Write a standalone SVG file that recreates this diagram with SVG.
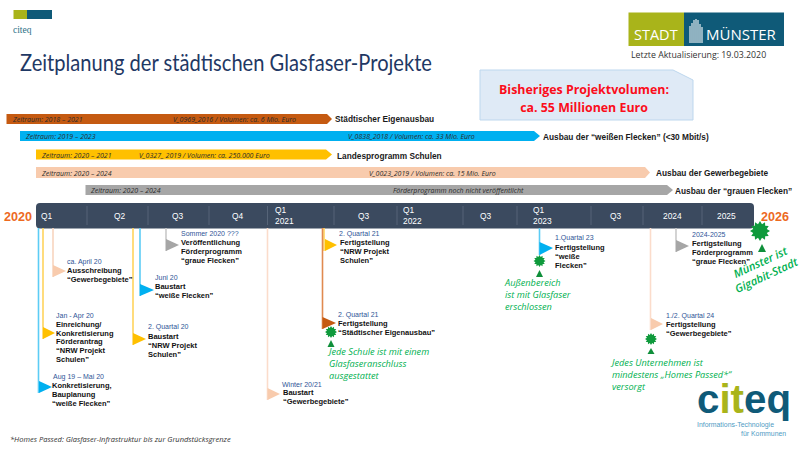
<svg xmlns="http://www.w3.org/2000/svg" width="800" height="450" viewBox="0 0 800 450">
<style>
.os{font-family:"Open Sans","Noto Sans",sans-serif}
.bi{font-family:"Open Sans","Noto Sans",sans-serif;font-style:italic;font-size:7px;fill:#2b2b2b}
.bl{font-family:"Liberation Sans",Arial,sans-serif;font-weight:bold;font-size:8.3px;fill:#1a1a1a}
.d{font-family:"Liberation Sans",Arial,sans-serif;font-size:7px;fill:#2f5597}
.n{font-family:"Liberation Sans",Arial,sans-serif;font-weight:bold;font-size:7.5px;fill:#111}
.q{font-family:"Liberation Sans",Arial,sans-serif;font-size:8.4px;fill:#fff}
.g{font-family:"Open Sans","Noto Sans",sans-serif;font-style:italic;font-size:9.2px;fill:#00b050}
.y{font-family:"Liberation Sans",Arial,sans-serif;font-weight:bold;font-size:12.6px;fill:#ed6a1f}
.c{fill:none;stroke-width:1.6}
.div{stroke:#5d6b7f;stroke-width:.8}
.star{fill:#0f9a3c}
.up{fill:#0f8f3a}
</style>
<defs>
<polygon id="s" points="0,-1 .2,-.68 .5,-.87 .52,-.52 .87,-.5 .68,-.2 1,0 .68,.2 .87,.5 .52,.52 .5,.87 .2,.68 0,1 -.2,.68 -.5,.87 -.52,.52 -.87,.5 -.68,.2 -1,0 -.68,-.2 -.87,-.5 -.52,-.52 -.5,-.87 -.2,-.68"/>
</defs>
<rect width="800" height="450" fill="#fff"/>

<g id="logo-citeq-small">
<rect x="13.5" y="10" width="13.5" height="9" fill="#a9b41a"/><rect x="27" y="10" width="25" height="9" fill="#0f5a78"/>
<text x="13" y="33" font-family="'Liberation Serif',serif" font-size="9.5" fill="#2b6f86">citeq</text>
</g>
<text id="title" x="20" y="70.5" font-family="Lato,'Open Sans',sans-serif" font-size="23" fill="#1f3864" textLength="412" lengthAdjust="spacingAndGlyphs">Zeitplanung der städtischen Glasfaser-Projekte</text>

<g id="logo-muenster">
<rect x="628.5" y="12.5" width="55.500" height="33.500" fill="#a9b41a"/><rect x="684" y="12.5" width="100" height="33.500" fill="#0f5a78"/>
<text x="634" y="40" class="os" font-size="14.500" fill="#fff">STADT</text>
<text x="706" y="40" class="os" font-size="15" fill="#fff">MÜNSTER</text>
<path d="M690 43V26M692 43V23M694 43V20M696 43V19M698 43V20M700 43V24M702 43V27" stroke="#d5e2e8" stroke-width="1.300" fill="none"/>
</g>
<text id="update" class="os" x="631" y="58" font-size="8.800" fill="#333">Letzte Aktualisierung: 19.03.2020</text>

<g id="volumen">
<polygon points="480,70 673,70 693,80 693,120 480,120" fill="#dfeaf6" stroke="#bdd7ee"/>
<text class="os" text-anchor="middle" x="584" y="94" font-size="12.400" font-weight="bold" fill="#fb0d1b">Bisheriges Projektvolumen:</text>
<text class="os" text-anchor="middle" x="584" y="112" font-size="12.400" font-weight="bold" fill="#fb0d1b">ca. 55 Millionen Euro</text>
</g>

<g id="bar-eigenausbau">
<polygon points="6.500,114 327,114 332,119 327,124 6.500,124" fill="#c55a11"/>
<text class="bi" x="13" y="121.500">Zeitraum: 2018 – 2021</text><text class="bi" x="173" y="121.500">V_0969_2016 / Volumen: ca. 6 Mio. Euro</text>
<text class="bl" x="335" y="121.500">Städtischer Eigenausbau</text>
</g>
<g id="bar-weisse">
<polygon points="20,131 534,131 540,136 534,141 20,141" fill="#00b0f0"/>
<text class="bi" x="26" y="139">Zeitraum: 2019 – 2023</text><text class="bi" x="348" y="139">V_0838_2018 / Volumen: ca. 33 Mio. Euro</text>
<text class="bl" x="543" y="140">Ausbau der “weißen Flecken” (&lt;30 Mbit/s)</text>
</g>
<g id="bar-schulen">
<polygon points="36,149.500 326,149.500 332,154.500 326,159.500 36,159.500" fill="#ffc000"/>
<text class="bi" x="42" y="157.500">Zeitraum: 2020 – 2021</text><text class="bi" x="139" y="157.500">V_0327_ 2019 / Volumen: ca. 250.000 Euro</text>
<text class="bl" x="337" y="158.500">Landesprogramm Schulen</text>
</g>
<g id="bar-gewerbe">
<polygon points="36,167 645,167 650,172.500 645,178 36,178" fill="#f8cbad"/>
<text class="bi" x="42" y="175.500">Zeitraum: 2020 – 2024</text><text class="bi" x="369" y="175.500">V_0023_2019 / Volumen: ca. 15 Mio. Euro</text>
<text class="bl" x="656" y="175.500">Ausbau der Gewerbegebiete</text>
</g>
<g id="bar-graue">
<polygon points="85.500,185 667,185 673,190 667,195 85.500,195" fill="#a6a6a6"/>
<text class="bi" x="91" y="193">Zeitraum: 2020 – 2024</text><text class="bi" x="393" y="193">Förderprogramm noch nicht veröffentlicht</text>
<text class="bl" x="675" y="193.500">Ausbau der “grauen Flecken”</text>
</g>

<g id="timeline">
<rect x="36" y="203" width="718" height="25.500" rx="4" fill="#3b4a5f"/>
<path class="div" d="M87 206V225M148 206V225M209 206V225M267.500 206V225M334 206V225M397 206V225M463 206V225M517 206V225M591 206V225M643 206V225M702 206V225"/>
<text class="y" x="4" y="221">2020</text><text class="y" x="761" y="221">2026</text>
<text class="q" x="41" y="219">Q1</text><text class="q" x="114" y="219">Q2</text><text class="q" x="172" y="219">Q3</text><text class="q" x="232" y="219">Q4</text>
<text class="q" x="275" y="213">Q1</text><text class="q" x="275" y="224">2021</text><text class="q" x="358" y="219">Q3</text>
<text class="q" x="403" y="213">Q1</text><text class="q" x="403" y="224">2022</text><text class="q" x="480" y="219">Q3</text>
<text class="q" x="533" y="213">Q1</text><text class="q" x="533" y="224">2023</text><text class="q" x="610" y="219">Q3</text>
<text class="q" x="663" y="219">2024</text><text class="q" x="717" y="219">2025</text>
</g>

<g id="connectors" class="c">
<path d="M38.500 228V393" stroke="#5cccf5"/>
<path d="M43 228V339" stroke="#ffd45c"/>
<path d="M53 228V277" stroke="#f8d5bf"/>
<path d="M133 228V345" stroke="#ffd45c"/>
<path d="M140 228V296" stroke="#5cccf5"/>
<path d="M166 228V251" stroke="#c9c9c9"/>
<path d="M267.500 228V400" stroke="#fbdccb"/>
<path d="M324 228V251" stroke="#ffd45c"/>
<path d="M322.500 228V329" stroke="#e08a50"/>
<path d="M539.500 228V255" stroke="#5cccf5"/>
<path d="M650.500 228V330" stroke="#fbdccb"/>
<path d="M676 228V252" stroke="#c9c9c9"/>
</g>

<g id="ms-ausschreibung"><polygon points="53,265 66,271 53,277" fill="#f8cbad"/>
<text class="d" x="67" y="264">ca. April 20</text><text class="n" x="67" y="273">Ausschreibung</text><text class="n" x="67" y="282">“Gewerbegebiete”</text></g>
<g id="ms-einreichung"><polygon points="43,327 55,333 43,339" fill="#ffc000"/>
<text class="d" x="56" y="318">Jan - Apr 20</text><text class="n" x="56" y="327">Einreichung/</text><text class="n" x="56" y="335.500">Konkretisierung</text><text class="n" x="56" y="344">Förderantrag</text><text class="n" x="56" y="353">“NRW Projekt</text><text class="n" x="56" y="362">Schulen”</text></g>
<g id="ms-konkret"><polygon points="39,381 52,387 39,393" fill="#00b0f0"/>
<text class="d" x="53" y="379">Aug 19 – Mai 20</text><text class="n" x="52" y="388">Konkretisierung,</text><text class="n" x="52" y="397">Bauplanung</text><text class="n" x="52" y="406">“weiße Flecken”</text></g>
<g id="ms-baustart-nrw"><polygon points="133,333 146,339 133,345" fill="#ffc000"/>
<text class="d" x="148" y="329">2. Quartal 20</text><text class="n" x="148" y="339">Baustart</text><text class="n" x="148" y="348">“NRW Projekt</text><text class="n" x="148" y="357">Schulen”</text></g>
<g id="ms-baustart-weiss"><polygon points="140,284 154,290 140,296" fill="#00b0f0"/>
<text class="d" x="155" y="280">Juni 20</text><text class="n" x="155" y="289">Baustart</text><text class="n" x="155" y="298">“weiße Flecken”</text></g>
<g id="ms-foerder"><polygon points="166,239 179,245 166,251" fill="#a6a6a6"/>
<text class="d" x="181" y="236">Sommer 2020 ???</text><text class="n" x="181" y="245">Veröffentlichung</text><text class="n" x="181" y="254">Förderprogramm</text><text class="n" x="181" y="263">“graue Flecken”</text></g>
<g id="ms-baustart-gew"><polygon points="267.500,388 280,394 267.500,400" fill="#f8cbad"/>
<text class="d" x="282" y="387">Winter 20/21</text><text class="n" x="283" y="395">Baustart</text><text class="n" x="283" y="404">“Gewerbegebiete”</text></g>
<g id="ms-fertig-nrw"><polygon points="325,239 337,245 325,251" fill="#ffc000"/>
<text class="d" x="339" y="236">2. Quartal 21</text><text class="n" x="340" y="245">Fertigstellung</text><text class="n" x="340" y="254">“NRW Projekt</text><text class="n" x="340" y="263">Schulen”</text></g>
<g id="ms-fertig-eigen"><polygon points="322.500,317 336,323 322.500,329" fill="#c55a11"/>
<text class="d" x="338" y="317">2. Quartal 21</text><text class="n" x="338" y="326">Fertigstellung</text><text class="n" x="338" y="335">“Städtischer Eigenausbau”</text></g>
<g id="goal-schule"><use href="#s" transform="translate(331 332) scale(6)" class="star"/><polygon points="331,340 334.500,347 327.500,347" class="up"/>
<text class="g" x="329" y="355">Jede Schule ist mit einem</text><text class="g" x="329" y="367">Glasfaseranschluss</text><text class="g" x="329" y="379">ausgestattet</text></g>
<g id="ms-fertig-weiss"><polygon points="539.500,242 553,248 539.500,255" fill="#00b0f0"/>
<text class="d" x="555" y="240">1.Quartal 23</text><text class="n" x="555" y="250">Fertigstellung</text><text class="n" x="555" y="259">“weiße</text><text class="n" x="555" y="268">Flecken”</text></g>
<g id="goal-aussen"><use href="#s" transform="translate(539.500 261) scale(6)" class="star"/><polygon points="539.500,270 543,277 536,277" class="up"/>
<text class="g" x="505" y="286">Außenbereich</text><text class="g" x="505" y="298">ist mit Glasfaser</text><text class="g" x="505" y="310">erschlossen</text></g>
<g id="ms-fertig-gew"><polygon points="651,318 663,324 651,330" fill="#f8cbad"/>
<text class="d" x="666" y="318">1./2. Quartal 24</text><text class="n" x="666" y="327">Fertigstellung</text><text class="n" x="666" y="336">“Gewerbegebiete”</text></g>
<g id="goal-unternehmen"><use href="#s" transform="translate(651 339) scale(6)" class="star"/><polygon points="651,348 654.500,354 647.500,354" class="up"/>
<text class="g" x="612" y="366">Jedes Unternehmen ist</text><text class="g" x="612" y="378">mindestens „Homes Passed*“</text><text class="g" x="612" y="390">versorgt</text></g>
<g id="ms-fertig-grau"><polygon points="676,240 689,246 676,252" fill="#a6a6a6"/>
<text class="d" x="692" y="237">2024-2025</text><text class="n" x="692" y="246">Fertigstellung</text><text class="n" x="692" y="255">Förderprogramm</text><text class="n" x="692" y="264">“graue Flecken”</text></g>
<g id="goal-gigabit"><use href="#s" transform="translate(760 231) scale(10)" class="star"/><polygon points="762,244 766,252 758,252" class="up"/>
<text class="g" font-weight="600" style="font-size:11.2px" text-anchor="middle" transform="translate(762 266) rotate(-25)">Münster ist</text>
<text class="g" font-weight="600" style="font-size:11.2px" text-anchor="middle" transform="translate(768 279) rotate(-25)">Gigabit-Stadt</text></g>

<g id="logo-citeq">
<text x="697" y="413" font-family="'Liberation Sans',Arial,sans-serif" font-weight="bold" font-size="40" fill="#0f5a78" textLength="94" lengthAdjust="spacingAndGlyphs">c<tspan fill="#a9b41a">it</tspan>eq</text>
<text x="697" y="427" font-family="'Liberation Sans',Arial,sans-serif" font-size="6.900" fill="#4f9bc4">Informations-Technologie</text>
<text x="741" y="436" font-family="'Liberation Sans',Arial,sans-serif" font-size="6.900" fill="#4f9bc4">für Kommunen</text>
</g>
<text id="footnote" class="os" x="10" y="441.500" font-size="7.500" font-style="italic" fill="#333">*Homes Passed: Glasfaser-Infrastruktur bis zur Grundstücksgrenze</text>
</svg>
